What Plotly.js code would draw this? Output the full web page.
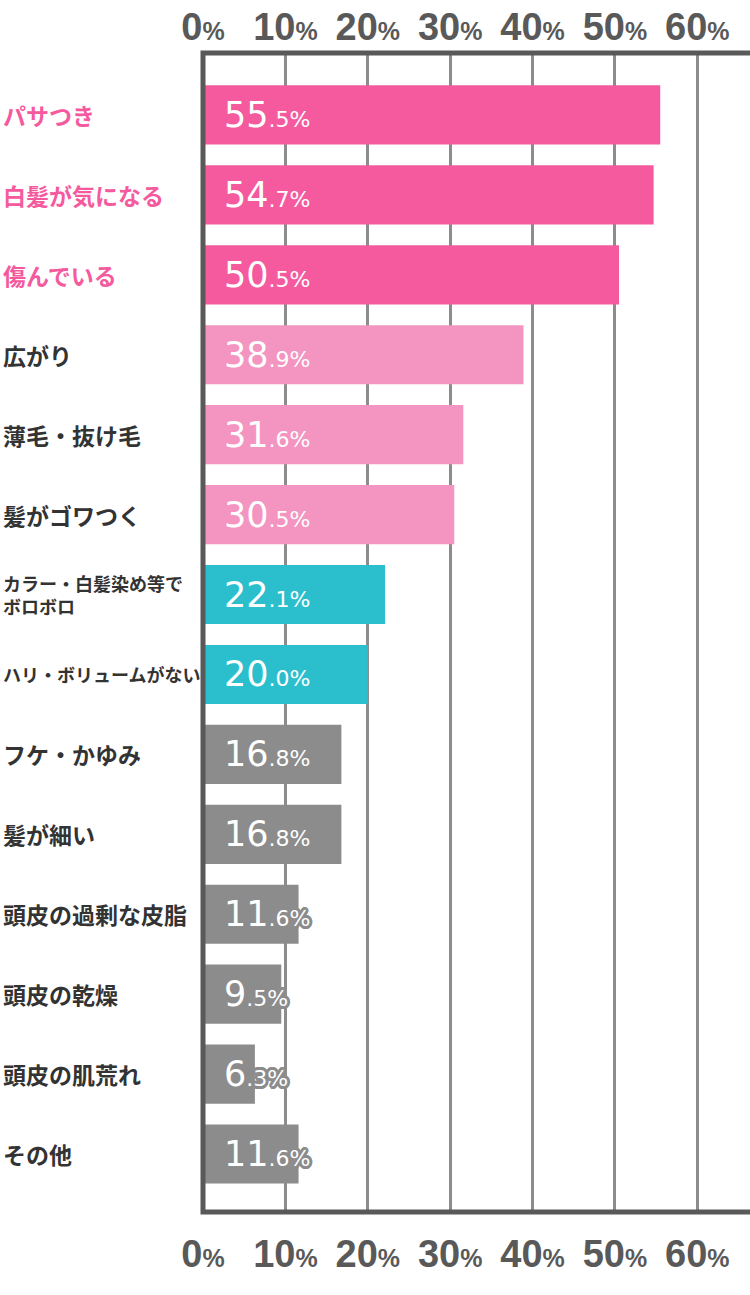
<!DOCTYPE html>
<html>
<head>
<meta charset="utf-8">
<script src="https://cdn.plot.ly/plotly-3.0.1.min.js"></script>
<style>html,body{margin:0;padding:0;background:#fff;}#chart{width:750px;height:1295px;}</style>
</head>
<body>
<div id="chart"></div>
<script>
// ---- data ----
const categories = ['パサつき','白髪が気になる','傷んでいる','広がり','薄毛・抜け毛','髪がゴワつく',
  'カラー・白髪染め等で<br>ボロボロ','ハリ・ボリュームがない','フケ・かゆみ','髪が細い',
  '頭皮の過剰な皮脂','頭皮の乾燥','頭皮の肌荒れ','その他'];
const values = [55.5, 54.7, 50.5, 38.9, 31.6, 30.5, 22.1, 20.0, 16.8, 16.8, 11.6, 9.5, 6.3, 11.6];
const groups = ['top','top','top','mid','mid','mid','teal','teal','gray','gray','gray','gray','gray','gray'];
const tickValues = [0, 10, 20, 30, 40, 50, 60];

// ---- styles ----
const barColors = {top:'#f45a9d', mid:'#f494c0', teal:'#2bbfcd', gray:'#8c8c8c'};
const labelColors = {top:'#f45a9d', mid:'#333333', teal:'#333333', gray:'#333333'};
const axisDark = '#595959';
const gridGray = '#8c8c8c';

const tickText = tickValues.map(v => v + '<span style="font-size:25px">%</span>');

function valueText(v){
  const parts = v.toFixed(1).split('.');
  return parts[0] + '<span style="font-size:22px">.' + parts[1] + '%</span>';
}
function outline(c){
  const s = [];
  const pts = [];
  for (let k = 0; k < 16; k++) {
    const a = k * Math.PI / 8;
    pts.push([3 * Math.cos(a), 3 * Math.sin(a)]);
  }
  pts.forEach(p => s.push(p[0].toFixed(2) + 'px ' + p[1].toFixed(2) + 'px 0 ' + c));
  return s.join(', ');
}

const traces = [
  {
    type:'bar', orientation:'h',
    y: categories, x: values,
    marker:{color: groups.map(g => barColors[g]), line:{width:0}},
    hoverinfo:'skip', xaxis:'x', yaxis:'y'
  },
  {
    type:'scatter', mode:'markers',
    y: categories, x: values,
    marker:{opacity:0, size:1},
    hoverinfo:'skip', xaxis:'x2', yaxis:'y'
  }
];

const plotLeft = 203, plotWidth = 547;
const annotations = [];
categories.forEach((c, i) => {
  const plain = c.replace('<br>', '');
  annotations.push({
    xref:'paper', yref:'y', x: (1 - plotLeft) / plotWidth, y: c,
    xanchor:'left', yanchor:'middle', align:'left', showarrow:false,
    text: c,
    font:{family:'"Noto Sans CJK JP", sans-serif', size: plain.length > 9 ? 18 : 23,
          color: labelColors[groups[i]], weight: 700}
  });
  annotations.push({
    xref:'x', yref:'y', x: 0, y: c, xshift: 19,
    xanchor:'left', yanchor:'middle', showarrow:false,
    text: valueText(values[i]),
    font:{family:'"DejaVu Sans", sans-serif', size:35, color:'#ffffff',
          shadow: outline(barColors[groups[i]])}
  });
});

const commonX = {
  range:[0, 66.4],
  tickmode:'array', tickvals: tickValues, ticktext: tickText,
  tickfont:{family:'"Liberation Sans", Arial, sans-serif', size:38, color:axisDark, weight:700},
  ticks:'', zeroline:false, fixedrange:true, showline:false
};

const layout = {
  width:750, height:1295,
  margin:{l:plotLeft, r:0, t:52.5, b:82.5, pad:0},
  paper_bgcolor:'#ffffff', plot_bgcolor:'#ffffff',
  showlegend:false, bargap:0.26,
  xaxis: Object.assign({}, commonX, {
    side:'bottom', anchor:'y', showgrid:true, gridcolor:gridGray, gridwidth:3,
    ticklabelstandoff: 16
  }),
  xaxis2: Object.assign({}, commonX, {
    side:'top', anchor:'y', overlaying:'x', matches:'x', showgrid:false,
    ticklabelstandoff: 4
  }),
  yaxis:{
    type:'category', range:[13.725, -0.775], showticklabels:false, ticks:'',
    showgrid:false, zeroline:false, fixedrange:true, showline:false
  },
  shapes:[{
    type:'rect', xref:'paper', yref:'paper', x0:0, x1:1.02, y0:0, y1:1,
    line:{color:axisDark, width:5}, fillcolor:'rgba(0,0,0,0)', layer:'above'
  }],
  annotations: annotations
};

Plotly.newPlot('chart', traces, layout, {displayModeBar:false, staticPlot:true});
</script>
</body>
</html>
